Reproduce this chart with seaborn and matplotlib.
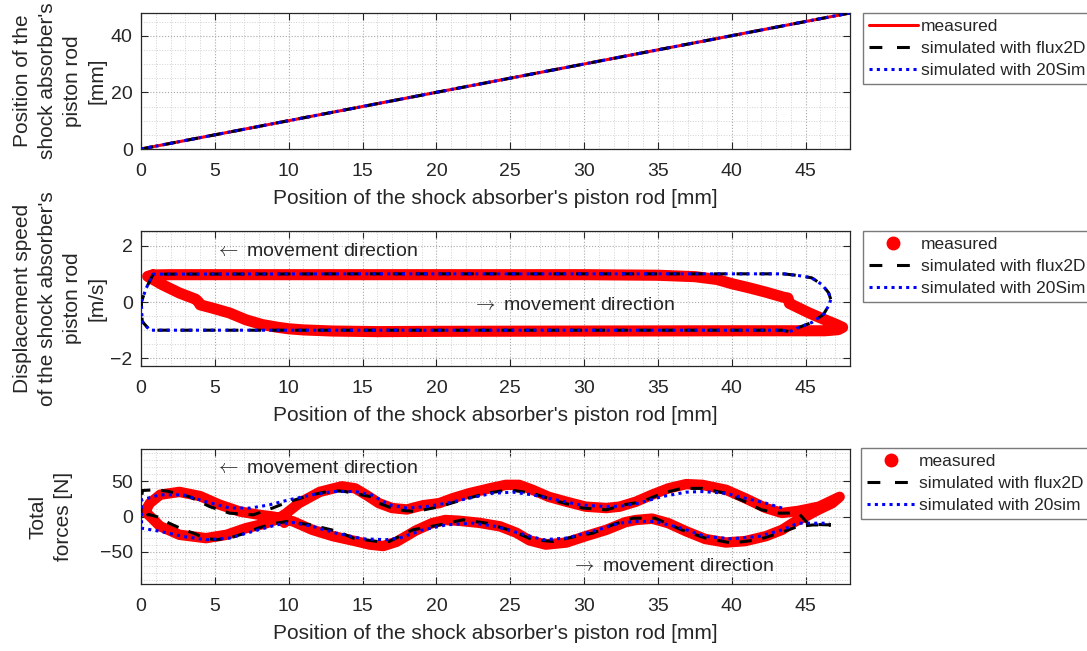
import matplotlib
matplotlib.use("Agg")
import matplotlib.pyplot as plt
from matplotlib.lines import Line2D
from matplotlib.ticker import MultipleLocator
import seaborn as sns

# --- panel 1: position vs position (all three identical) ---
pos_x = [0, 48]
pos_y = [0, 48]

# --- panel 2: displacement speed [m/s] ---
speed_meas_x = [0.8, 2, 5, 10, 20, 30, 35, 37.5, 39, 40, 41.2, 42.3, 43.5, 43.8, 43.9,
                45.2, 46.3, 47.0, 47.5, 47.2, 46.3, 44, 40, 30, 20, 16, 13, 11, 10, 9.3,
                8.2, 7.1, 6, 4.8, 4.0, 3.9, 3.7, 2.6, 1.46, 0.45, 0.8]
speed_meas_y = [0.96, 0.97, 0.97, 0.97, 0.97, 0.97, 0.95, 0.9, 0.8, 0.65, 0.5, 0.35, 0.17,
                0.14, -0.05, -0.38, -0.63, -0.78, -0.9, -0.98, -1.02, -1.02, -1.02, -1.03,
                -1.04, -1.05, -1.03, -0.99, -0.95, -0.9, -0.8, -0.63, -0.39, -0.21, -0.1,
                0.0, 0.1, 0.32, 0.61, 0.91, 0.96]
# flux2D and 20Sim give the same speed curve
speed_sim_x = [43.5, 44.5, 45.4, 46.1, 46.55, 46.7, 46.55, 46.2, 45.4, 44.5, 43.9, 43.4,
               30, 15, 0.6, 0.08, 0.02, 0.36, 0.83, 15, 30, 43.5]
speed_sim_y = [1.0, 0.94, 0.86, 0.62, 0.33, 0.09, -0.14, -0.44, -0.73, -0.91, -1.05, -1.0,
               -1.0, -1.0, -1.0, -0.69, 0.0, 0.5, 0.99, 1.0, 1.0, 1.0]

# --- panel 3: total forces [N] ---
force_meas_x = [0.3, 0.6, 1.3, 2.6, 4.0, 5.3, 6.7, 8.0, 8.9, 9.6, 9.7, 9.9, 10.3, 11.6, 13.0,
                14.5, 15.5, 16.4, 17.3, 18.6, 19.7, 20.6, 21.5, 22.9, 24.3, 25.4, 26.3, 27.4,
                28.8, 30.1, 31.5, 32.8, 33.5, 34.6, 35.7, 36.9, 38.2, 39.6, 40.9, 42.3, 43.4,
                44.3, 45.0, 45.9, 46.8, 47.3,
                45.9, 44.5, 43.4, 42.3, 40.9, 39.6, 38.0, 36.9, 35.7, 34.6, 33.5, 32.4, 31.5,
                30.1, 28.8, 27.6, 26.5, 25.6, 24.7, 23.6, 22.2, 21.1, 20.2, 19.1, 18.0, 17.0,
                16.1, 15.3, 14.5, 13.6, 12.1, 10.7, 9.8, 9.2, 8.5, 7.1, 5.8, 4.4, 2.6, 1.3,
                0.4, 0.3]
force_meas_y = [8, 19, 31, 35, 29, 17, 7, 2.4, 0, -2.5, -9, -5, -7, -19, -28,
                -35, -40, -42, -36, -20, -9.5, -5, -6, -9, -14, -23, -34, -40,
                -37, -28, -19, -8, -5, -3, -9.5, -21, -32, -37, -35, -28, -19,
                -7, 0, 10, 19, 28,
                14, 8, 5, 12, 26, 38, 45, 46, 40, 31, 21, 14, 12,
                14, 21, 28, 38, 45, 45, 40, 33, 26, 19, 16, 10, 12,
                19, 30, 40, 43, 35, 19, 4, -4, -9.5, -16.6, -26, -30.8, -26, -14,
                4.7, 8]
force_flux_x = [46.7, 45.2, 44.5, 43.2, 42.0, 40.9, 39.6, 38.0, 36.6, 35.3, 33.9, 32.8, 31.5,
                29.9, 28.3, 26.5, 24.9, 23.4, 21.8, 20.2, 18.6, 17.3, 16.1, 15.6, 13.8, 13.0,
                11.6, 10.0, 8.9, 7.6, 6.0, 4.66, 3.3, 1.8, 1.0, 0.1, 0.0, 0.0, 0.5, 1.2, 1.9,
                2.9, 3.6, 4.3, 5.1, 6.1, 7.0, 8.0, 9.0, 9.9, 11.5, 13.3, 14.4, 16.0, 16.8,
                18.4, 20.2, 21.8, 23.4, 25.2, 26.5, 27.9, 29.4, 30.6, 31.9, 33.3, 34.8, 36.6,
                38.2, 40.0, 41.8, 43.2, 44.5, 45.5, 46.7]
force_flux_y = [-12, -11, 5, 4.7, 9.5, 21, 33, 40, 40, 33, 21, 17, 9.5,
                12, 21, 33, 38, 33, 24, 14, 7, 9.5, 19, 28, 35.5, 37,
                31, 21, 12, 2.4, 4.7, 14, 28, 36, 38, 37, 20, -6, 3, -1, -9.5,
                -19, -24, -31, -33, -30, -24, -16, -10, -7, -12, -21, -31, -35.5, -35.5,
                -19, -12, -4.7, -9.5, -21, -33, -35.5, -28.4, -23.6, -12, -2.4, -2.4, -19,
                -30.7, -37.8, -33, -23.6, -14, -12, -12]
force_20sim_x = [43.4, 42.3, 40.9, 39.6, 38.0, 36.9, 35.3, 33.7, 32.6, 31.5, 29.7, 28.1, 26.5,
                 25.2, 23.8, 22.2, 20.7, 19.3, 18.0, 16.8, 15.6, 14.5, 13.0, 11.6, 10.0, 8.7,
                 7.4, 6.0, 4.4, 2.86, 1.28, 0.04, 0.04, 1.28, 2.86, 4.4, 6.0, 7.6, 9.2, 10.3,
                 11.6, 13.2, 15.0, 16.6, 17.5, 19.1, 20.7, 22.5, 24.0, 25.6, 27.2, 28.8, 30.6,
                 32.4, 33.5, 34.8, 36.6, 38.2, 40.0, 41.8, 43.4, 44.5, 45.9, 46.6]
force_20sim_y = [12, 19, 26, 33, 35.5, 34.6, 28.4, 19, 15, 14, 16.6, 23.7, 30.8,
                 34.6, 33, 26, 19, 14, 12, 16.6, 31, 35.5, 35.5, 30.8, 23.7, 16.6,
                 12, 12, 21, 30.8, 30.8, 23.7, -16.6, -21, -28.4, -33, -30.7, -21, -11.8, -8.5,
                 -14, -23.6, -31.7, -33, -30.7, -19, -11.8, -9.5, -14, -23.6, -33, -30.7, -21,
                 -9.5, -7, -7, -16.6, -28.4, -31.7, -28.4, -19, -9.5, -9.5, -9.5]

xlabel = "Position of the shock absorber's piston rod [mm]"
RED, BLACK, BLUE = "#ff0000", "#000000", "#0000ff"
DARK = "#262626"

sns.set_style("ticks")
plt.rcParams["font.family"] = ["Liberation Sans", "DejaVu Sans"]
plt.rcParams["mathtext.fontset"] = "cm"

fig = plt.figure(figsize=(10.87, 6.51), dpi=100)
W, H = 1087, 651
def add_ax(top, bottom):
    return fig.add_axes([141 / W, 1 - bottom / H, 709 / W, (bottom - top) / H])

ax1 = add_ax(13, 149)
ax2 = add_ax(231, 366)
ax3 = add_ax(449, 584)


def style(ax, ylim, ymajor, yminor):
    ax.set_xlim(0, 48)
    ax.set_ylim(*ylim)
    ax.xaxis.set_major_locator(MultipleLocator(5))
    ax.xaxis.set_minor_locator(MultipleLocator(1))
    ax.yaxis.set_major_locator(MultipleLocator(ymajor))
    ax.yaxis.set_minor_locator(MultipleLocator(yminor))
    ax.set_axisbelow(True)
    ax.grid(which="major", ls=":", color="#a8a8a8", lw=0.8)
    ax.grid(which="minor", ls=":", color="#d2d2d2", lw=0.7)
    ax.tick_params(which="major", direction="in", top=True, right=True, length=5,
                   width=0.8, labelsize=14, colors=DARK)
    ax.tick_params(axis="x", pad=10)
    ax.tick_params(axis="y", pad=6)
    ax.tick_params(which="minor", length=0)
    for sp in ax.spines.values():
        sp.set_visible(True)
        sp.set_color(DARK)
        sp.set_linewidth(0.9)
    ax.set_xlabel(xlabel, fontsize=15, color=DARK, labelpad=6.5)


def draw(ax, x, y, color, lw, ls="-", z=2):
    sns.lineplot(x=x, y=y, sort=False, estimator=None, ax=ax, color=color, linewidth=lw,
                 linestyle=ls, legend=False, zorder=z, solid_capstyle="round",
                 solid_joinstyle="round")


DASH = (0, (4, 3.5))
DOT = (0, (1, 1.4))

# panel 1
draw(ax1, pos_x, pos_y, RED, 2.2)
draw(ax1, pos_x, pos_y, BLACK, 2.2, DASH, 3)
draw(ax1, pos_x, pos_y, BLUE, 2.2, DOT, 4)
style(ax1, (0, 48), 20, 5)
ax1.set_ylabel("Position of the\nshock absorber's\npiston rod\n[mm]", fontsize=15,
               color=DARK, linespacing=1.4)

# panel 2
draw(ax2, speed_meas_x, speed_meas_y, RED, 8)
draw(ax2, speed_sim_x, speed_sim_y, BLACK, 2.2, DASH, 3)
draw(ax2, speed_sim_x, speed_sim_y, BLUE, 2.2, DOT, 4)
style(ax2, (-2.27, 2.52), 2, 0.5)
ax2.set_ylabel("Displacement speed\nof the shock absorber's\npiston rod\n[m/s]", fontsize=15,
               color=DARK, linespacing=1.4)
ax2.text(5.0, 1.8, r"$\leftarrow$ movement direction", fontsize=14, color=DARK, va="center")
ax2.text(22.4, -0.13, r"$\rightarrow$ movement direction", fontsize=14, color=DARK,
         va="center")

# panel 3
draw(ax3, force_meas_x, force_meas_y, RED, 7.5)
draw(ax3, force_flux_x, force_flux_y, BLACK, 2.2, DASH, 3)
draw(ax3, force_20sim_x, force_20sim_y, BLUE, 2.2, DOT, 4)
style(ax3, (-96, 96), 50, 10)
ax3.set_ylabel("Total\nforces [N]", fontsize=15, color=DARK, linespacing=1.4)
ax3.text(5.0, 67.8, r"$\leftarrow$ movement direction", fontsize=14, color=DARK, va="center")
ax3.text(29.1, -71.5, r"$\rightarrow$ movement direction", fontsize=14, color=DARK,
         va="center")

ax1.yaxis.set_label_coords(-0.048, 0.5)
ax2.yaxis.set_label_coords(-0.048, 0.5)
ax3.yaxis.set_label_coords(-0.096, 0.5)


def legend(ax, first, sim_name, top_px, left_px):
    handles = [first,
               Line2D([], [], color=BLACK, lw=2.2, ls=(0, (4.2, 4.8))),
               Line2D([], [], color=BLUE, lw=2.2, ls=DOT)]
    labels = ["measured", "simulated with flux2D", sim_name]
    leg = ax.legend(handles, labels, loc="upper left",
                    bbox_to_anchor=(left_px / W, 1 - top_px / H),
                    bbox_transform=fig.transFigure, frameon=True, fancybox=False,
                    edgecolor="#7a7a7a", framealpha=1, fontsize=12.5, handlelength=2.8,
                    handletextpad=0.2, borderpad=0.35, labelspacing=0.39, borderaxespad=0)
    leg.get_frame().set_linewidth(1.0)
    for t in leg.get_texts():
        t.set_color(DARK)


dot = Line2D([], [], color=RED, marker="o", ls="none", markersize=9)
legend(ax1, Line2D([], [], color=RED, lw=2.2), "simulated with 20Sim", 13, 863)
legend(ax2, dot, "simulated with 20Sim", 231, 863)
legend(ax3, dot, "simulated with 20sim", 448, 861)

fig.savefig("out.png", dpi=100)
